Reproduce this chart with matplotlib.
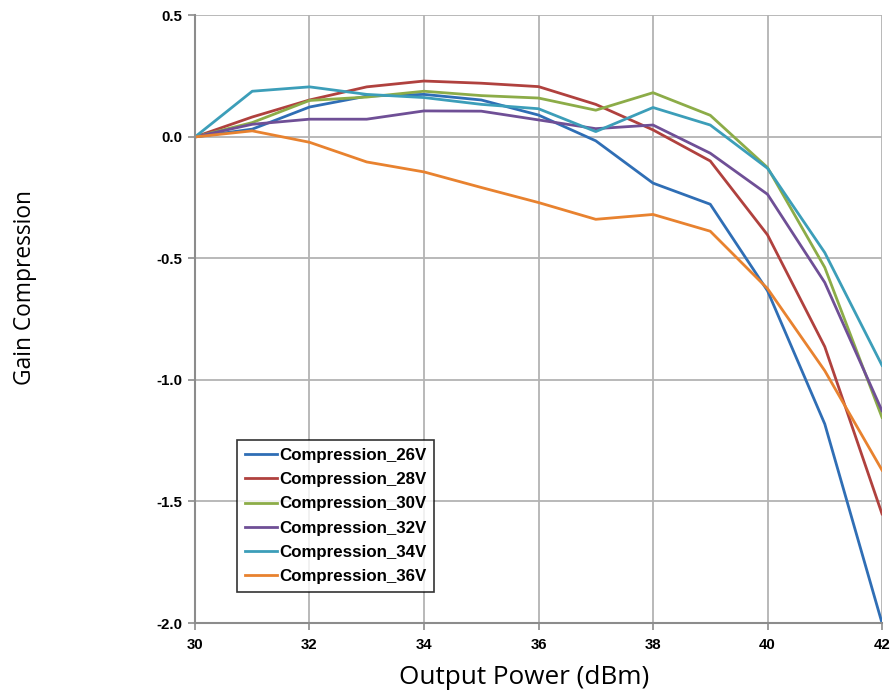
import matplotlib
matplotlib.use("Agg")
import matplotlib.pyplot as plt

# output power (dBm)
power = [30, 31, 32, 33, 34, 35, 36, 37, 38, 39, 40, 41, 42]

# gain compression per drain voltage
comp_26v = [0.0, 0.032, 0.123, 0.168, 0.175, 0.152, 0.09, -0.016, -0.19, -0.277, -0.633, -1.181, -2.0]
comp_28v = [0.0, 0.082, 0.152, 0.206, 0.230, 0.221, 0.207, 0.134, 0.029, -0.099, -0.403, -0.863, -1.551]
comp_30v = [0.0, 0.059, 0.150, 0.164, 0.188, 0.170, 0.160, 0.110, 0.182, 0.089, -0.126, -0.537, -1.154]
comp_32v = [0.0, 0.052, 0.073, 0.073, 0.107, 0.106, 0.070, 0.034, 0.049, -0.067, -0.236, -0.599, -1.127]
comp_34v = [0.0, 0.188, 0.206, 0.175, 0.162, 0.134, 0.116, 0.022, 0.121, 0.049, -0.129, -0.476, -0.94]
comp_36v = [0.0, 0.025, -0.022, -0.103, -0.144, -0.208, -0.27, -0.339, -0.319, -0.388, -0.624, -0.962, -1.371]

labels = ["Compression_26V", "Compression_28V", "Compression_30V",
          "Compression_32V", "Compression_34V", "Compression_36V"]
colors = ["#2f6eb5", "#b0413e", "#8cac48", "#6f4f96", "#3c9eb9", "#e8822f"]
series = [comp_26v, comp_28v, comp_30v, comp_32v, comp_34v, comp_36v]

xticks = [30, 32, 34, 36, 38, 40, 42]
yticks = [0.5, 0.0, -0.5, -1.0, -1.5, -2.0]

fig = plt.figure(figsize=(8.92, 6.94), dpi=100)
ax = fig.add_axes([0.2186, 0.1023, 0.7702, 0.8755])

for y, lab, c in zip(series, labels, colors):
    ax.plot(power, y, color=c, lw=2.0, label=lab)

ax.set_xlim(30, 42)
ax.set_ylim(-2.0, 0.5)
ax.set_xticks(xticks)
ax.set_yticks(yticks)
ax.set_yticklabels(["%.1f" % v for v in yticks])
ax.grid(True, color="#b3b3b3", lw=1.3)
ax.set_axisbelow(True)

for s in ["top", "right"]:
    ax.spines[s].set_visible(False)
for s in ["left", "bottom"]:
    ax.spines[s].set_color("#8c8c8c")
    ax.spines[s].set_linewidth(1.5)

ax.tick_params(axis="both", colors="#8c8c8c", length=5, width=1.2)
for t in ax.get_xticklabels() + ax.get_yticklabels():
    t.set_fontfamily("Liberation Sans")
    t.set_fontweight("bold")
    t.set_fontsize(10.8)
    t.set_color("black")
ax.tick_params(axis="x", pad=6)
ax.tick_params(axis="y", pad=4)

# axis titles placed where the reference has them
fig.text(524 / 892, 1 - 677 / 694, "Output Power (dBm)", fontfamily="Open Sans",
         fontsize=18.8, ha="center", va="center")
fig.text(25 / 892, 1 - 288 / 694, "Gain Compression", fontfamily="Open Sans",
         fontsize=16.4, rotation=90, ha="center", va="center")

leg = ax.legend(loc="lower left", bbox_to_anchor=(0.061, 0.051),
                prop={"family": "Liberation Sans", "weight": "bold", "size": 12.2},
                frameon=True, fancybox=False, handlelength=1.9, handletextpad=0.15,
                borderpad=0.45, labelspacing=0.55, borderaxespad=0)
leg.get_frame().set_edgecolor("black")
leg.get_frame().set_linewidth(1.2)

fig.savefig("out.png", dpi=100)
